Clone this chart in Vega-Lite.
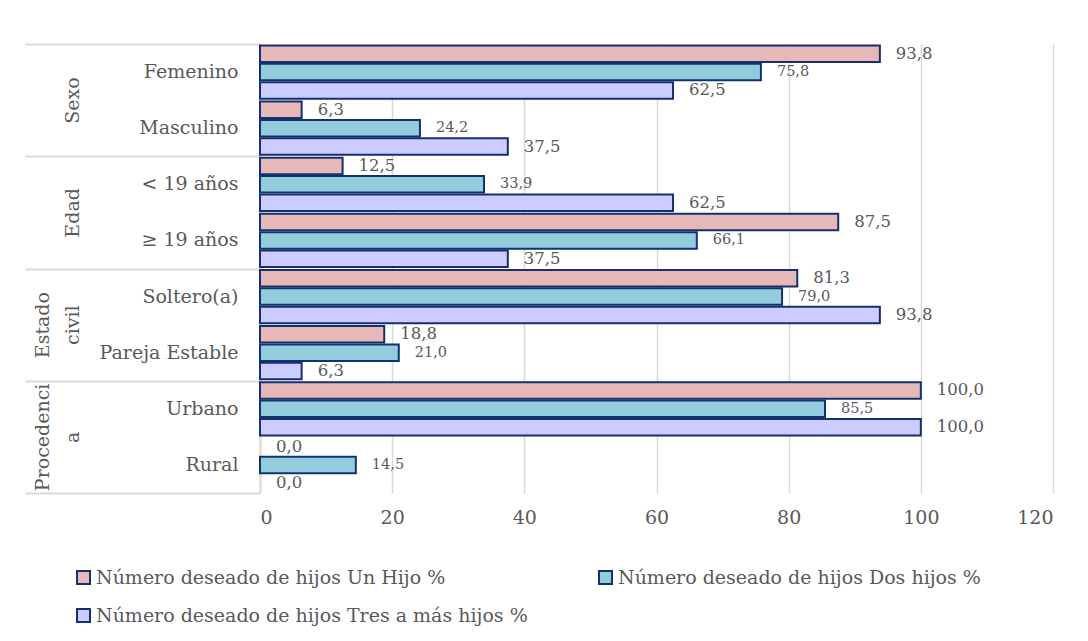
{
  "$schema": "https://vega.github.io/schema/vega-lite/v6.json",
  "width": 793,
  "height": 449,
  "autosize": "none",
  "padding": {"left": 260, "top": 44, "right": 35, "bottom": 148},
  "config": {
    "font": "DejaVu Serif",
    "view": {"stroke": null},
    "locale": {"number": {"decimal": ",", "thousands": ".", "grouping": [3], "currency": ["", " €"]}}
  },
  "datasets": {
    "grupos": [
      {"grupo": "Sexo", "value": 0},
      {"grupo": "Edad", "value": 0},
      {"grupo": "Estado civil", "value": 0},
      {"grupo": "Procedencia", "value": 0}
    ],
    "datos": [
      {"grupo": "Sexo", "cat": "Femenino", "serie": "Número deseado de hijos Un Hijo %", "value": 93.8},
      {"grupo": "Sexo", "cat": "Femenino", "serie": "Número deseado de hijos Dos hijos %", "value": 75.8},
      {"grupo": "Sexo", "cat": "Femenino", "serie": "Número deseado de hijos Tres a más hijos %", "value": 62.5},
      {"grupo": "Sexo", "cat": "Masculino", "serie": "Número deseado de hijos Un Hijo %", "value": 6.3},
      {"grupo": "Sexo", "cat": "Masculino", "serie": "Número deseado de hijos Dos hijos %", "value": 24.2},
      {"grupo": "Sexo", "cat": "Masculino", "serie": "Número deseado de hijos Tres a más hijos %", "value": 37.5},
      {"grupo": "Edad", "cat": "< 19 años", "serie": "Número deseado de hijos Un Hijo %", "value": 12.5},
      {"grupo": "Edad", "cat": "< 19 años", "serie": "Número deseado de hijos Dos hijos %", "value": 33.9},
      {"grupo": "Edad", "cat": "< 19 años", "serie": "Número deseado de hijos Tres a más hijos %", "value": 62.5},
      {"grupo": "Edad", "cat": "≥ 19 años", "serie": "Número deseado de hijos Un Hijo %", "value": 87.5},
      {"grupo": "Edad", "cat": "≥ 19 años", "serie": "Número deseado de hijos Dos hijos %", "value": 66.1},
      {"grupo": "Edad", "cat": "≥ 19 años", "serie": "Número deseado de hijos Tres a más hijos %", "value": 37.5},
      {"grupo": "Estado civil", "cat": "Soltero(a)", "serie": "Número deseado de hijos Un Hijo %", "value": 81.3},
      {"grupo": "Estado civil", "cat": "Soltero(a)", "serie": "Número deseado de hijos Dos hijos %", "value": 79.0},
      {"grupo": "Estado civil", "cat": "Soltero(a)", "serie": "Número deseado de hijos Tres a más hijos %", "value": 93.8},
      {"grupo": "Estado civil", "cat": "Pareja Estable", "serie": "Número deseado de hijos Un Hijo %", "value": 18.8},
      {"grupo": "Estado civil", "cat": "Pareja Estable", "serie": "Número deseado de hijos Dos hijos %", "value": 21.0},
      {"grupo": "Estado civil", "cat": "Pareja Estable", "serie": "Número deseado de hijos Tres a más hijos %", "value": 6.3},
      {"grupo": "Procedencia", "cat": "Urbano", "serie": "Número deseado de hijos Un Hijo %", "value": 100.0},
      {"grupo": "Procedencia", "cat": "Urbano", "serie": "Número deseado de hijos Dos hijos %", "value": 85.5},
      {"grupo": "Procedencia", "cat": "Urbano", "serie": "Número deseado de hijos Tres a más hijos %", "value": 100.0},
      {"grupo": "Procedencia", "cat": "Rural", "serie": "Número deseado de hijos Un Hijo %", "value": 0.0},
      {"grupo": "Procedencia", "cat": "Rural", "serie": "Número deseado de hijos Dos hijos %", "value": 14.5},
      {"grupo": "Procedencia", "cat": "Rural", "serie": "Número deseado de hijos Tres a más hijos %", "value": 0.0}
    ]
  },
  "encoding": {
    "x": {
      "field": "value",
      "type": "quantitative",
      "scale": {"domain": [0, 120], "nice": false, "zero": true},
      "axis": {
        "title": null,
        "domain": false,
        "ticks": false,
        "grid": true,
        "gridColor": "#d9d9d9",
        "gridWidth": 1.5,
        "values": [0, 20, 40, 60, 80, 100, 120],
        "format": "d",
        "labelFontSize": 19,
        "labelColor": "#595959",
        "labelPadding": 15
      }
    }
  },
  "layer": [
    {
      "data": {"name": "grupos"},
      "mark": {"type": "point", "opacity": 0},
      "encoding": {
        "y": {
          "field": "grupo",
          "type": "nominal",
          "sort": ["Sexo", "Edad", "Estado civil", "Procedencia"],
          "scale": {"type": "band", "paddingInner": 0, "paddingOuter": 0},
          "axis": {
            "orient": "left",
            "title": null,
            "domain": false,
            "grid": false,
            "ticks": true,
            "tickBand": "extent",
            "tickSize": 235,
            "tickColor": "#d9d9d9",
            "tickWidth": 2,
            "labelAngle": -90,
            "labelAlign": "center",
            "labelBaseline": "bottom",
            "labelPadding": -27,
            "labelFontSize": 19,
            "labelColor": "#595959",
            "labelLineHeight": 30,
            "labelLimit": 0,
            "labelExpr": "datum.value == 'Estado civil' ? ['Estado', 'civil'] : datum.value == 'Procedencia' ? ['Procedenci', 'a'] : ['', datum.value]"
          }
        }
      }
    },
    {
      "data": {"name": "datos"},
      "encoding": {
        "y": {
          "field": "cat",
          "type": "nominal",
          "sort": ["Femenino", "Masculino", "< 19 años", "≥ 19 años", "Soltero(a)", "Pareja Estable", "Urbano", "Rural"],
          "scale": {"paddingInner": 0.05, "paddingOuter": 0.025},
          "axis": {
            "orient": "left",
            "title": null,
            "ticks": false,
            "domainColor": "#d9d9d9",
            "domainWidth": 2,
            "labelFontSize": 19,
            "labelColor": "#595959",
            "labelPadding": 22,
            "labelLimit": 0
          }
        },
        "yOffset": {
          "field": "serie",
          "type": "nominal",
          "sort": ["Número deseado de hijos Un Hijo %", "Número deseado de hijos Dos hijos %", "Número deseado de hijos Tres a más hijos %"],
          "scale": {"paddingInner": 0.1, "paddingOuter": 0}
        }
      },
      "layer": [
        {
          "transform": [{"filter": "datum.value > 0"}],
          "mark": {"type": "bar", "stroke": "#14306E", "strokeWidth": 2},
          "encoding": {
            "color": {
              "field": "serie",
              "type": "nominal",
              "sort": ["Número deseado de hijos Un Hijo %", "Número deseado de hijos Dos hijos %", "Número deseado de hijos Tres a más hijos %"],
              "scale": {
                "domain": ["Número deseado de hijos Un Hijo %", "Número deseado de hijos Dos hijos %", "Número deseado de hijos Tres a más hijos %"],
                "range": ["#E6B9B8", "#93CDDD", "#CCCCFF"]
              },
              "legend": {
                "title": null,
                "orient": "none",
                "legendX": -186,
                "legendY": 524,
                "padding": 0,
                "direction": "horizontal",
                "columns": 2,
                "columnPadding": 67,
                "rowPadding": 17,
                "labelFontSize": 19,
                "labelColor": "#595959",
                "labelLimit": 0,
                "labelOffset": 3,
                "symbolType": "square",
                "symbolSize": 169,
                "symbolStrokeWidth": 2,
                "symbolStrokeColor": "#14306E",
                "symbolOpacity": 1
              }
            }
          }
        },
        {
          "transform": [{"filter": "datum.serie != 'Número deseado de hijos Dos hijos %'"}],
          "mark": {"type": "text", "align": "left", "baseline": "middle", "dx": 16, "color": "#595959", "fontSize": 16.5},
          "encoding": {
            "text": {"field": "value", "type": "quantitative", "format": ".1f"}
          }
        },
        {
          "transform": [{"filter": "datum.serie == 'Número deseado de hijos Dos hijos %'"}],
          "mark": {"type": "text", "align": "left", "baseline": "middle", "dx": 16, "color": "#595959", "fontSize": 14.5},
          "encoding": {
            "text": {"field": "value", "type": "quantitative", "format": ".1f"}
          }
        }
      ]
    }
  ],
  "resolve": {"scale": {"y": "independent"}, "axis": {"y": "independent"}}
}
